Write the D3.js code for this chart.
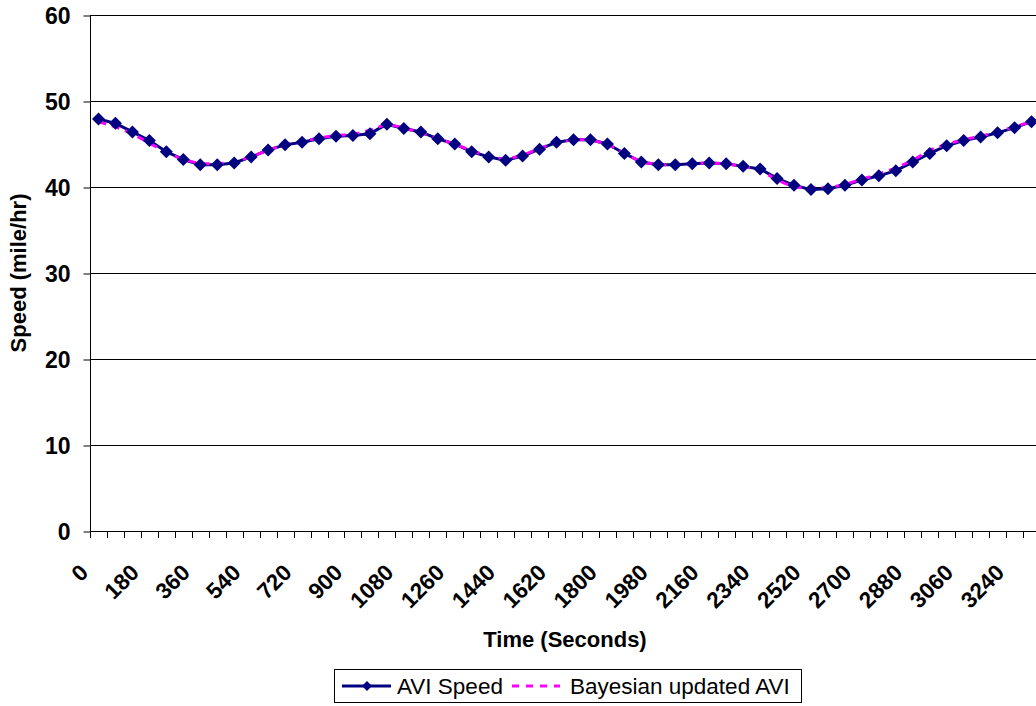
<!DOCTYPE html>
<html>
<head>
<meta charset="utf-8">
<script src="https://cdn.jsdelivr.net/npm/d3@7"></script>
<style>
  html, body { margin: 0; padding: 0; background: #fff; }
  svg { display: block; }
  text { font-family: "Liberation Sans", Arial, sans-serif; }
</style>
</head>
<body>
<svg id="chart" width="1036" height="706"></svg>
<script>
const categories = [0,60,120,180,240,300,360,420,480,540,600,660,720,780,840,900,960,1020,1080,1140,
  1200,1260,1320,1380,1440,1500,1560,1620,1680,1740,1800,1860,1920,1980,2040,2100,2160,2220,2280,2340,
  2400,2460,2520,2580,2640,2700,2760,2820,2880,2940,3000,3060,3120,3180,3240,3300];

const aviSpeed = [47.9,47.4,46.4,45.4,44.1,43.2,42.6,42.6,42.8,43.5,44.3,44.9,45.2,45.6,45.9,46.0,46.2,47.3,
  46.8,46.4,45.6,45.0,44.1,43.5,43.1,43.6,44.4,45.2,45.5,45.5,45.0,43.9,42.9,42.6,42.6,42.7,
  42.8,42.7,42.4,42.1,41.0,40.2,39.7,39.8,40.2,40.8,41.3,41.9,42.9,43.9,44.8,45.4,45.8,46.3,46.9,47.6];

const bayesAVI = [47.6,47.0,46.2,45.1,44.0,43.2,42.7,42.7,42.9,43.5,44.3,44.9,45.3,45.7,46.0,46.1,46.6,47.3,
  46.9,46.3,45.6,45.0,44.2,43.6,43.2,43.7,44.5,45.2,45.5,45.5,45.0,43.9,42.9,42.6,42.6,42.7,
  42.8,42.7,42.4,42.0,40.8,40.0,39.9,39.9,40.3,40.9,41.5,42.2,43.1,44.3,45.0,45.5,45.9,46.4,47.0,47.6];

const yTicks = [0,10,20,30,40,50,60];
const xLabels = categories.filter((d, i) => i % 3 === 0);

const seriesNames = ["AVI Speed", "Bayesian updated AVI"];

const svg = d3.select("#chart");
const pLeft = 90, pRight = 1040, pTop = 15, pBottom = 531;

const x = d3.scaleBand().domain(categories).range([pLeft, pRight]).paddingInner(0).paddingOuter(0);
const y = d3.scaleLinear().domain([0, 60]).range([pBottom, pTop]);

const font = '"Liberation Sans", Arial, sans-serif';

// gridlines
svg.append("g").selectAll("line").data(yTicks.filter(d => d > 0)).join("line")
  .attr("x1", pLeft).attr("x2", pRight)
  .attr("y1", d => y(d) + 0.5).attr("y2", d => y(d) + 0.5)
  .attr("stroke", "#000").attr("stroke-width", 1);

// y axis
const yAxis = d3.axisLeft(y).tickValues(yTicks).tickSize(7).tickPadding(13);
const gy = svg.append("g").attr("transform", `translate(${pLeft + 0.5},0.5)`).call(yAxis);
gy.select(".domain").attr("stroke", "#000").attr("d", `M0,${pTop}V${pBottom}`);
gy.selectAll(".tick line").attr("stroke", "#000");
gy.selectAll(".tick text").attr("font-family", font).attr("font-size", 23)
  .attr("font-weight", "bold").attr("fill", "#000").attr("dy", "0.36em");

// x axis
const xAxis = d3.axisBottom(x).tickValues([]).tickSize(0);
const gx = svg.append("g").attr("transform", `translate(0,${pBottom + 0.5})`).call(xAxis);
gx.select(".domain").attr("stroke", "#000").attr("d", `M${pLeft},0H${pRight}`);
// tick marks at category boundaries
const bounds = categories.map(c => x(c)).concat([pRight]);
svg.append("g").selectAll("line").data(bounds).join("line")
  .attr("x1", d => Math.round(d) + 0.5).attr("x2", d => Math.round(d) + 0.5)
  .attr("y1", pBottom).attr("y2", pBottom + 7)
  .attr("stroke", "#000").attr("stroke-width", 1);

// x labels
svg.append("g").selectAll("text").data(xLabels).join("text")
  .attr("transform", d => `translate(${x(d) + x.bandwidth() / 2 - 9},574) rotate(-45)`)
  .attr("text-anchor", "end")
  .attr("font-family", font).attr("font-size", 22.5).attr("font-weight", "bold")
  .text(d => d);

// axis titles
svg.append("text").attr("x", 565).attr("y", 647).attr("text-anchor", "middle")
  .attr("font-family", font).attr("font-size", 22).attr("font-weight", "bold").text("Time (Seconds)");
svg.append("text").attr("transform", "translate(26,273) rotate(-90)").attr("text-anchor", "middle")
  .attr("font-family", font).attr("font-size", 22).attr("font-weight", "bold").text("Speed (mile/hr)");

const cx = d => x(d) + x.bandwidth() / 2;
const line = d3.line().x((d, i) => cx(categories[i])).y(d => y(d));

// AVI line
svg.append("path").datum(aviSpeed).attr("d", line)
  .attr("fill", "none").attr("stroke", "#000080").attr("stroke-width", 3);

// Bayesian dashed
svg.append("path").datum(bayesAVI).attr("d", line)
  .attr("fill", "none").attr("stroke", "#FF00FF").attr("stroke-width", 3)
  .attr("stroke-dasharray", "8,6");

// diamonds
const diamond = (px, py, r) => `M${px},${py - r}L${px + r},${py}L${px},${py + r}L${px - r},${py}Z`;
svg.append("g").selectAll("path").data(aviSpeed).join("path")
  .attr("d", (d, i) => diamond(cx(categories[i]), y(d), 6.5))
  .attr("fill", "#000080");

// legend
const lg = svg.append("g");
lg.append("rect").attr("x", 334.5).attr("y", 669.5).attr("width", 467).attr("height", 33)
  .attr("fill", "#fff").attr("stroke", "#000").attr("stroke-width", 1);
lg.append("line").attr("x1", 342).attr("x2", 391).attr("y1", 686).attr("y2", 686)
  .attr("stroke", "#000080").attr("stroke-width", 3);
lg.append("path").attr("d", diamond(367, 686, 5)).attr("fill", "#000080");
lg.append("text").attr("x", 397).attr("y", 694).attr("font-family", font).attr("font-size", 22.5)
  .text(seriesNames[0]);
lg.append("line").attr("x1", 512).attr("x2", 560).attr("y1", 686).attr("y2", 686)
  .attr("stroke", "#FF00FF").attr("stroke-width", 3).attr("stroke-dasharray", "7,7");
lg.append("text").attr("x", 570).attr("y", 694).attr("font-family", font).attr("font-size", 22.5)
  .text(seriesNames[1]);
</script>
</body>
</html>
